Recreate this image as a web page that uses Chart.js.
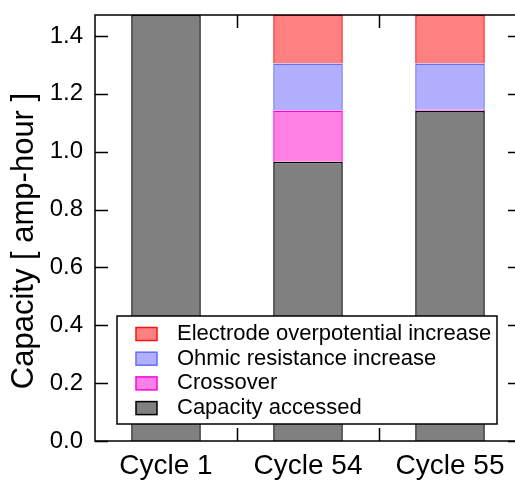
<!DOCTYPE html>
<html>
<head>
<meta charset="utf-8">
<script src="https://cdn.jsdelivr.net/npm/chart.js@4"></script>
<style>
  html, body { margin: 0; padding: 0; background: #fff; overflow: hidden; }
  canvas { display: block; }
</style>
</head>
<body>
<canvas id="capChart" width="530" height="481"></canvas>
<script>
var cycles = ['Cycle 1', 'Cycle 54', 'Cycle 55'];
var capacityAccessed = [1.4725, 0.965, 1.141];
var crossover = [0, 0.177, 0.005];
var ohmicIncrease = [0, 0.163, 0.159];
var electrodeIncrease = [0, 0.1675, 0.1675];
var yTicks = [0.0, 0.2, 0.4, 0.6, 0.8, 1.0, 1.2, 1.4];
var yMax = 1.4725;

var fontFamily = '"Liberation Sans", Arial, sans-serif';

// frame, inward ticks, y title, and the legend box inside the plot
var framePlugin = {
  id: 'frame',
  afterDraw: function(chart) {
    var c = chart.ctx, a = chart.chartArea;
    var x = chart.scales.x, y = chart.scales.y;
    c.save();
    c.strokeStyle = '#000';
    c.lineWidth = 1.5;
    c.strokeRect(a.left, a.top, a.right - a.left, a.bottom - a.top);
    c.beginPath();
    yTicks.forEach(function(v) {
      var py = Math.round(y.getPixelForValue(v)) + 0.5;
      c.moveTo(a.left, py); c.lineTo(a.left + 13, py);
      c.moveTo(a.right, py); c.lineTo(a.right - 13, py);
    });
    for (var i = 0; i < cycles.length - 1; i++) {
      var px = Math.round(x.getPixelForValue(i + 0.5)) + 0.5;
      c.moveTo(px, a.bottom); c.lineTo(px, a.bottom - 13);
      c.moveTo(px, a.top); c.lineTo(px, a.top + 13);
    }
    c.stroke();

    // y axis title
    c.fillStyle = '#000';
    c.font = '31px ' + fontFamily;
    c.textAlign = 'center';
    c.textBaseline = 'middle';
    c.translate(24, 241);
    c.rotate(-Math.PI / 2);
    c.fillText('Capacity [ amp-hour ]', 0, 0);
    c.restore();

    // legend
    c.save();
    var lx = a.left + 22, ly = a.bottom - 125, lw = 380, lh = 108;
    c.fillStyle = '#fff';
    c.fillRect(lx, ly, lw, lh);
    c.strokeStyle = '#000';
    c.lineWidth = 1.5;
    c.strokeRect(lx, ly, lw, lh);
    var ds = chart.data.datasets.slice().reverse();
    c.font = '22px ' + fontFamily;
    c.textBaseline = 'middle';
    ds.forEach(function(d, k) {
      var cy = ly + 18 + k * 24.7;
      c.fillStyle = d.backgroundColor;
      c.fillRect(lx + 19, cy - 6.5, 21, 13);
      c.strokeStyle = d.borderColor;
      c.lineWidth = 1.5;
      c.strokeRect(lx + 19, cy - 6.5, 21, 13);
      c.fillStyle = '#000';
      c.fillText(d.label, lx + 60, cy);
    });
    c.restore();
  }
};

var ctx = document.getElementById('capChart');
var capChart = new Chart(ctx, {
  type: 'bar',
  data: {
    labels: cycles,
    datasets: [{
      label: 'Capacity accessed',
      data: capacityAccessed,
      backgroundColor: '#808080',
      borderColor: '#000000'
    }, {
      label: 'Crossover',
      data: crossover,
      backgroundColor: '#FF80E4',
      borderColor: '#FF00E0'
    }, {
      label: 'Ohmic resistance increase',
      data: ohmicIncrease,
      backgroundColor: '#B0B0FF',
      borderColor: '#6A6AFF'
    }, {
      label: 'Electrode overpotential increase',
      data: electrodeIncrease,
      backgroundColor: '#FF8080',
      borderColor: '#FF1010'
    }]
  },
  options: {
    responsive: false,
    animation: false,
    layout: { padding: { top: 15, right: 9, left: 0, bottom: 0 } },
    datasets: {
      bar: { borderWidth: 1.5, categoryPercentage: 1, barPercentage: 0.49 }
    },
    scales: {
      x: {
        stacked: true,
        grid: { display: false },
        border: { display: false },
        ticks: { color: '#000', font: { family: fontFamily, size: 28 }, padding: 0, maxRotation: 0 },
        afterFit: function(s) { s.height = 40; s.paddingLeft = 0; s.paddingRight = 0; }
      },
      y: {
        stacked: true,
        min: 0,
        max: yMax,
        grid: { display: false },
        border: { display: false },
        ticks: {
          stepSize: 0.2,
          includeBounds: false,
          color: '#000',
          padding: 4,
          font: { family: fontFamily, size: 24 },
          callback: function(v) { return v.toFixed(1); }
        },
        afterFit: function(s) { s.width = 95; s.paddingTop = 0; s.paddingBottom = 0; }
      }
    },
    plugins: {
      legend: { display: false },
      tooltip: { enabled: false }
    }
  },
  plugins: [framePlugin]
});
</script>
</body>
</html>
